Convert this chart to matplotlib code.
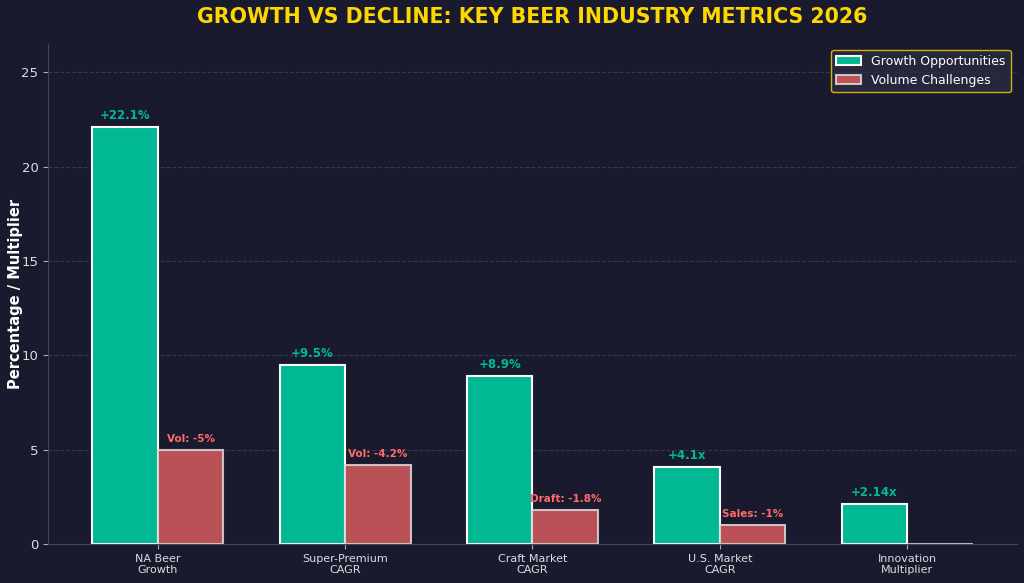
import numpy as np
import matplotlib.pyplot as plt

# Дані
categories = ['NA Beer\nGrowth', 'Super-Premium\nCAGR', 'Craft Market\nCAGR',
              'U.S. Market\nCAGR', 'Innovation\nMultiplier']
growth = [22.1, 9.5, 8.9, 4.1, 2.14]
growth_labels = ['+22.1%', '+9.5%', '+8.9%', '+4.1x', '+2.14x']
decline = [5, 4.2, 1.8, 1, 0]
decline_labels = ['Vol: -5%', 'Vol: -4.2%', 'Draft: -1.8%', 'Sales: -1%', '']

bg = '#1a1a2e'
green = '#00b894'
red = '#ff6b6b'

fig = plt.figure(figsize=(10.24, 5.83), dpi=100)
fig.patch.set_facecolor(bg)
ax = fig.add_axes([0.047, 0.067, 0.946, 0.858])
ax.set_facecolor(bg)

x = np.arange(len(categories))
w = 0.35
ax.bar(x - w / 2, growth, w, color=green, edgecolor='white', linewidth=1.5,
       label='Growth Opportunities')
ax.bar(x + w / 2, decline, w, color='#d65c5f', alpha=0.85, edgecolor='#dddddd',
       linewidth=1.5, label='Volume Challenges')

for xi, v, t in zip(x, growth, growth_labels):
    ax.text(xi - w / 2, v + 0.25, t, ha='center', va='bottom', color=green,
            fontsize=8.5, fontweight='bold')
for xi, v, t in zip(x, decline, decline_labels):
    if t:
        ax.text(xi + w / 2, v + 0.3, t, ha='center', va='bottom', color=red,
                fontsize=7.5, fontweight='bold')

ax.set_ylim(0, max(growth) * 1.2)
ax.set_xticks(x)
ax.set_xticklabels(categories, fontsize=8)
ax.tick_params(axis='y', colors='#aaaaaa', labelcolor='#dddddd', labelsize=9.5)
ax.tick_params(axis='x', colors='#aaaaaa', labelcolor='#dddddd')
ax.set_ylabel('Percentage / Multiplier', color='white', fontsize=10.5,
              fontweight='bold', labelpad=-1)
ax.set_title('GROWTH VS DECLINE: KEY BEER INDUSTRY METRICS 2026',
             color='#FFD700', fontsize=14.8, fontweight='bold', pad=15)
ax.yaxis.grid(True, linestyle='--', color='#555566', alpha=0.5)
ax.set_axisbelow(True)
for s in ['top', 'right']:
    ax.spines[s].set_visible(False)
for s in ['left', 'bottom']:
    ax.spines[s].set_color('#444455')

leg = ax.legend(loc='upper right', facecolor='#2a2a40', edgecolor='#FFD700',
                fontsize=9)
for t in leg.get_texts():
    t.set_color('white')

plt.savefig('out.png', dpi=100, facecolor=bg)
